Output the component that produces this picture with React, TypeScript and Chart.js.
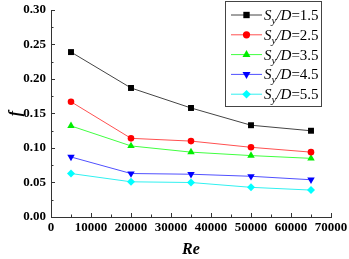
import React, { useEffect, useRef } from 'react';
import { Chart, registerables } from 'chart.js';

Chart.register(...registerables);

const reynolds = [5000, 20000, 35000, 50000, 65000];
const spacingLabels = ['1.5', '2.5', '3.5', '4.5', '5.5'];
const fSy15 = [0.239, 0.187, 0.158, 0.133, 0.125];
const fSy25 = [0.167, 0.114, 0.110, 0.101, 0.094];
const fSy35 = [0.132, 0.103, 0.094, 0.089, 0.085];
const fSy45 = [0.087, 0.063, 0.062, 0.059, 0.054];
const fSy55 = [0.063, 0.051, 0.050, 0.043, 0.039];

const seriesValues = [fSy15, fSy25, fSy35, fSy45, fSy55];
const pointColors = ['#000000', '#ff0000', '#00ee00', '#0000ff', '#00ffff'];
const lineColors = ['#444444', '#ff5050', '#40ff40', '#5050ff', '#30f0f0'];
const pointStyles = ['rect', 'circle', 'triangle', 'triangle', 'rectRot'];
const pointRotations = [0, 0, 0, 180, 0];
const pointRadii = [4.2, 3.3, 4.3, 4.3, 4];

const X_MAX = 70000;
const X_STEP = 10000;
const Y_MAX = 0.3;
const Y_STEP = 0.05;

const FAMILY = '"Liberation Serif", "Times New Roman", serif';

function drawMarker(ctx: CanvasRenderingContext2D, style: string, rot: number, x: number, y: number, r: number, color: string) {
  ctx.save();
  ctx.fillStyle = color;
  ctx.beginPath();
  if (style === 'rect') {
    const s = r * Math.SQRT1_2;
    ctx.rect(x - s, y - s, 2 * s, 2 * s);
  } else if (style === 'circle') {
    ctx.arc(x, y, r, 0, Math.PI * 2);
  } else if (style === 'triangle') {
    const a = (rot * Math.PI) / 180;
    for (let k = 0; k < 3; k++) {
      const ang = a + (k * 2 * Math.PI) / 3;
      const px = x + Math.sin(ang) * r;
      const py = y - Math.cos(ang) * r;
      if (k === 0) ctx.moveTo(px, py);
      else ctx.lineTo(px, py);
    }
    ctx.closePath();
  } else {
    ctx.moveTo(x - r, y);
    ctx.lineTo(x, y - r);
    ctx.lineTo(x + r, y);
    ctx.lineTo(x, y + r);
    ctx.closePath();
  }
  ctx.fill();
  ctx.restore();
}

const inwardTicks = {
  id: 'inwardTicks',
  afterDraw(chart: any) {
    const ctx: CanvasRenderingContext2D = chart.ctx;
    const xs = chart.scales.x;
    const ys = chart.scales.y;
    const { left, bottom } = chart.chartArea;
    ctx.save();
    ctx.strokeStyle = '#333333';
    ctx.lineWidth = 1;
    ctx.beginPath();
    for (let i = 0; i <= (X_MAX / X_STEP) * 2; i++) {
      const v = (i * X_STEP) / 2;
      const px = Math.round(xs.getPixelForValue(v)) + 0.5;
      const len = i % 2 === 0 ? 4 : 2.5;
      ctx.moveTo(px, bottom);
      ctx.lineTo(px, bottom - len);
    }
    for (let i = 0; i <= Math.round(Y_MAX / Y_STEP) * 2; i++) {
      const v = (i * Y_STEP) / 2;
      const py = Math.round(ys.getPixelForValue(v)) + 0.5;
      const len = i % 2 === 0 ? 4 : 2.5;
      ctx.moveTo(left, py);
      ctx.lineTo(left + len, py);
    }
    ctx.stroke();
    ctx.restore();
  },
};

const customLegend = {
  id: 'customLegend',
  afterDraw(chart: any) {
    const ctx: CanvasRenderingContext2D = chart.ctx;
    const bx = 225.5;
    const by = 1.5;
    const bw = 96;
    const bh = 105;
    ctx.save();
    ctx.fillStyle = '#ffffff';
    ctx.fillRect(bx, by, bw, bh);
    ctx.strokeStyle = '#444444';
    ctx.lineWidth = 1;
    ctx.strokeRect(bx, by, bw, bh);
    chart.data.datasets.forEach((ds: any, i: number) => {
      const cy = 15 + i * 19.8;
      ctx.strokeStyle = lineColors[i];
      ctx.lineWidth = 1;
      ctx.beginPath();
      ctx.moveTo(231, cy);
      ctx.lineTo(262, cy);
      ctx.stroke();
      drawMarker(ctx, pointStyles[i], pointRotations[i], 246.5, cy, pointRadii[i] + 0.3, pointColors[i]);
      const base = cy + 5;
      let tx = 264;
      ctx.fillStyle = '#000000';
      ctx.textBaseline = 'alphabetic';
      ctx.textAlign = 'left';
      ctx.font = `italic 15px ${FAMILY}`;
      ctx.fillText('S', tx, base);
      tx += ctx.measureText('S').width;
      ctx.font = `italic 11px ${FAMILY}`;
      ctx.fillText('y', tx, base + 4);
      tx += ctx.measureText('y').width;
      ctx.font = `italic 15px ${FAMILY}`;
      ctx.fillText('/D', tx, base);
      tx += ctx.measureText('/D').width;
      ctx.font = `15px ${FAMILY}`;
      ctx.fillText('=' + spacingLabels[i], tx, base);
    });
    ctx.restore();
  },
};

export default function App() {
  const ref = useRef<HTMLCanvasElement | null>(null);
  useEffect(() => {
    if (!ref.current) return;
    const datasets = seriesValues.map((vals, i) => ({
      label: 'Sy/D=' + spacingLabels[i],
      data: reynolds.map((x, j) => ({ x, y: vals[j] })),
      borderColor: lineColors[i],
      backgroundColor: pointColors[i],
      pointBackgroundColor: pointColors[i],
      pointBorderColor: pointColors[i],
      pointBorderWidth: 0,
      pointStyle: pointStyles[i] as any,
      rotation: pointRotations[i],
      pointRotation: pointRotations[i],
      pointRadius: pointRadii[i],
      borderWidth: 1,
      tension: 0,
      fill: false,
    }));
    const tickFont = { family: FAMILY, size: 13, weight: 'bold' as const };
    const chart = new Chart(ref.current, {
      type: 'line',
      data: { datasets },
      plugins: [inwardTicks, customLegend],
      options: {
        animation: false,
        responsive: false,
        maintainAspectRatio: false,
        layout: { padding: { left: 0, right: 18, top: 10, bottom: 0 } },
        plugins: { legend: { display: false }, tooltip: { enabled: false } },
        scales: {
          x: {
            type: 'linear',
            min: 0,
            max: X_MAX,
            ticks: { stepSize: X_STEP, font: tickFont, color: '#000', padding: 3, autoSkip: false, maxRotation: 0, callback: (v: any) => String(Math.round(Number(v))) },
            grid: { display: false, drawTicks: false },
            border: { display: true, color: '#333', width: 1 },
            title: { display: true, text: 'Re', color: '#000', font: { family: FAMILY, size: 16, style: 'italic', weight: 'bold' }, padding: { top: 0, bottom: 0 } },
            afterFit: (s: any) => {
              s.height = 42;
              s.paddingLeft = 0;
              s.paddingRight = 0;
            },
          },
          y: {
            type: 'linear',
            min: 0,
            max: Y_MAX,
            ticks: { stepSize: Y_STEP, font: tickFont, color: '#000', padding: 5, callback: (v: any) => Number(v).toFixed(2) },
            grid: { display: false, drawTicks: false },
            border: { display: true, color: '#333', width: 1 },
            title: { display: true, text: 'f', color: '#000', font: { family: FAMILY, size: 16, style: 'italic', weight: 'bold' }, padding: { top: 6, bottom: 0 } },
            afterFit: (s: any) => {
              s.width = 51;
              s.paddingTop = 0;
              s.paddingBottom = 0;
            },
          },
        },
      } as any,
    });
    return () => chart.destroy();
  }, []);
  return (
    <div style={{ position: 'fixed', left: 0, top: 0, width: 349, height: 259, background: '#fff' }}>
      <canvas ref={ref} width={349} height={259} style={{ width: 349, height: 259, display: 'block' }} />
    </div>
  );
}
